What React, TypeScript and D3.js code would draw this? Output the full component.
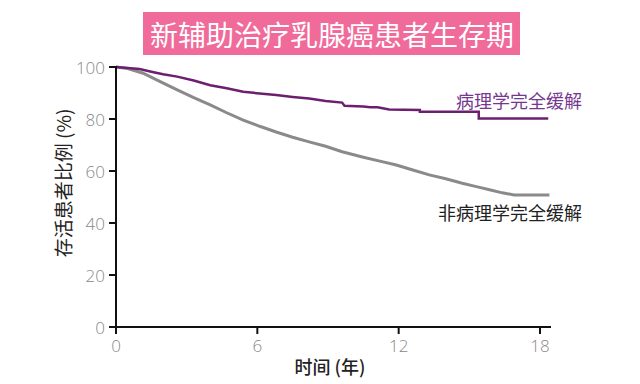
import React from "react";
import * as d3 from "d3";

const title = "新辅助治疗乳腺癌患者生存期";
const xTicks = [0, 6, 12, 18];
const yTicks = [0, 20, 40, 60, 80, 100];
const xLabel = "时间 (年)";
const yLabel = "存活患者比例 (%)";
const pcrLabel = "病理学完全缓解";
const nonPcrLabel = "非病理学完全缓解";

const pcrTime = [0, 0.5, 1.0, 1.5, 2.0, 2.6, 3.3, 4.0, 4.7, 5.4, 6.1, 6.8, 7.5, 8.2, 8.9, 9.6, 9.7, 10.5, 10.8, 11.1, 11.6, 12.9, 12.9, 15.4, 15.4, 18.35];
const pcrValue = [100, 99.6, 99.2, 98.2, 97.2, 96.3, 94.8, 93.0, 91.8, 90.5, 89.8, 89.2, 88.5, 87.9, 86.9, 86.3, 85.1, 84.8, 84.5, 84.5, 83.7, 83.5, 82.8, 82.8, 80.2, 80.2];

const nonTime = [0, 0.5, 1.15, 1.9, 2.6, 3.3, 4.0, 4.7, 5.4, 6.1, 6.8, 7.5, 8.2, 8.9, 9.6, 10.5, 11.2, 11.9, 12.6, 13.3, 14.0, 14.7, 15.3, 15.9, 16.4, 16.9, 18.4];
const nonValue = [100, 99.4, 97.6, 94.3, 91.2, 88.2, 85.4, 82.4, 79.6, 77.2, 75.0, 73.0, 71.2, 69.5, 67.4, 65.3, 63.8, 62.3, 60.4, 58.5, 57.0, 55.3, 54.0, 52.7, 51.6, 50.8, 50.8];

export default function App() {
  const W = 640, H = 384;
  const x = d3.scaleLinear().domain([0, 18]).range([116, 540]);
  const y = d3.scaleLinear().domain([0, 100]).range([327, 67]);
  const line = d3.line<[number, number]>().x(d => x(d[0])).y(d => y(d[1])).curve(d3.curveLinear);
  const pcr = pcrTime.map((t, i) => [t, pcrValue[i]] as [number, number]);
  const non = nonTime.map((t, i) => [t, nonValue[i]] as [number, number]);
  const font = "'Noto Sans CJK SC', 'Noto Sans', sans-serif";
  return (
    <svg width={W} height={H} style={{ position: "absolute", left: 0, top: 0, background: "#fff" }} fontFamily={font}>
      <rect x={143} y={12} width={377} height={43} fill="#f06a9a" />
      <text x={332} y={34} textAnchor="middle" dominantBaseline="central" fill="#fff" fontSize={28}>{title}</text>

      <path d={line(non) || ""} fill="none" stroke="#8a8a8a" strokeWidth={3} />
      <path d={line(pcr) || ""} fill="none" stroke="#6b1f6e" strokeWidth={2.5} />

      <line x1={x(0)} x2={x(0)} y1={y(100) - 1} y2={y(0) + 1} stroke="#111" strokeWidth={2} />
      <line x1={x(0) - 6} x2={551} y1={y(0)} y2={y(0)} stroke="#111" strokeWidth={2} />
      {yTicks.map(t => (
        <g key={"y" + t}>
          <line x1={x(0) - 7} x2={x(0)} y1={y(t)} y2={y(t)} stroke="#111" strokeWidth={2} />
          <text x={x(0) - 11} y={y(t)} textAnchor="end" dominantBaseline="central" fill="#888" fontSize={17} fontFamily="'Open Sans', sans-serif" fontWeight={300}>{t}</text>
        </g>
      ))}
      {xTicks.map(t => (
        <g key={"x" + t}>
          <line x1={x(t)} x2={x(t)} y1={y(0)} y2={y(0) + 7} stroke="#111" strokeWidth={2} />
          <text x={x(t)} y={345} textAnchor="middle" dominantBaseline="central" fill="#888" fontSize={17} fontFamily="'Open Sans', sans-serif" fontWeight={300}>{t}</text>
        </g>
      ))}
      <text x={330} y={366} textAnchor="middle" dominantBaseline="central" fill="#222" fontSize={18} fontWeight={500}>{xLabel}</text>
      <text transform={`translate(62,183) rotate(-90)`} textAnchor="middle" dominantBaseline="central" fill="#222" fontSize={19}>{yLabel}</text>
      <text x={582} y={100} textAnchor="end" dominantBaseline="central" fill="#76388f" fontSize={18}>{pcrLabel}</text>
      <text x={582} y={212} textAnchor="end" dominantBaseline="central" fill="#222" fontSize={18}>{nonPcrLabel}</text>
    </svg>
  );
}
